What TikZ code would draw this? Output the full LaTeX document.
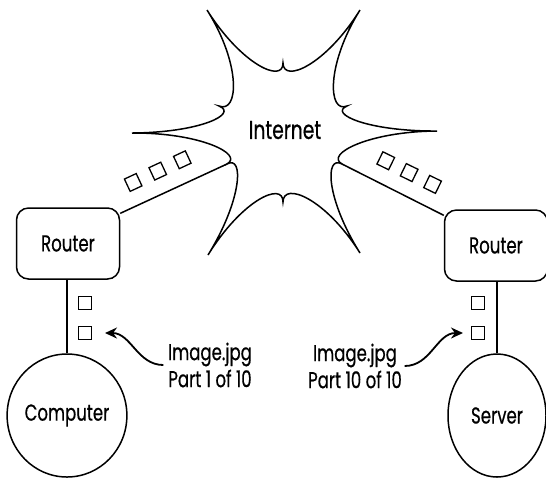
\documentclass[tikz,border=0pt]{standalone}
\usepackage{fontspec}
\setmainfont{Poppins}[FakeStretch=0.72,FakeBold=0.5]
\usetikzlibrary{arrows.meta,calc,shapes.geometric}

\begin{document}
\begin{tikzpicture}[x=0.5pt,y=-0.5pt,line width=0.75pt,
  font=\fontsize{11.5}{14}\selectfont,
  router/.style={draw, rounded corners=6pt, minimum width=51.5pt, minimum height=35.5pt, inner sep=0pt},
  host/.style={draw, ellipse, minimum width=49pt, minimum height=61.5pt, inner sep=0pt},
  pkt/.style={draw, minimum width=6.5pt, minimum height=6.8pt, inner sep=0pt, line width=0.65pt},
  note/.style={align=center, font=\fontsize{11.5}{13.5}\selectfont, inner sep=0pt},
  wiggle/.style={-{Stealth[length=6pt,width=5.5pt]}, line width=0.9pt}]
\useasboundingbox (0,0) rectangle (546,479);

% The cloud: six spikes (t) and six notches (c) between them
\coordinate (O) at (284,132);
\coordinate (t1) at (207,10);  \coordinate (c1) at (283,63);
\coordinate (t2) at (360,10);  \coordinate (c2) at (347,106);
\coordinate (t3) at (437,131); \coordinate (c3) at (342,164);
\coordinate (t4) at (360,253); \coordinate (c4) at (283,202);
\coordinate (t5) at (208,255); \coordinate (c5) at (227,164);
\coordinate (t6) at (132,133); \coordinate (c6) at (219,106);

\draw (t1)
  \foreach \i/\j in {1/2,2/3,3/4,4/5,5/6,6/1} {
    .. controls ($(t\i)!0.45!(O)$) and ($(c\i)!0.3!(O)$) .. (c\i)
    .. controls ($(c\i)!0.3!(O)$) and ($(t\j)!0.45!(O)$) .. (t\j)
  };
\node[font=\fontsize{13}{15}\selectfont] (inet) at (285,130) {Internet};

% Routers and end hosts
\node[router] (rl) at (68,243.5) {Router};
\node[router] (rr) at (496,245.5) {Router};
\node[host] (pc) at (67,415.5) {Computer};
\node[host] (srv) at (497,415.5) {Server};

% Links
\draw (rl.30) -- (c5);
\draw (rr.150) -- (c3);
\draw (pc.north) -- (pc.north |- rl.south);
\draw (srv.north) -- (srv.north |- rr.south);

% Packets on the links
\foreach \p in {0.21,0.44,0.67} {
  \node[pkt, rotate=25] at ($(rl.30)!\p!(c5)!11.3pt!90:(c5)$) {};
  \node[pkt, rotate=-26] at ($(rr.150)!\p!(c3)!11.3pt!-90:(c3)$) {};
}
\node[pkt] (p1) at (85,303) {}; \node[pkt] (p2) at (85,333) {};
\node[pkt] (p3) at (478,303) {}; \node[pkt] (p4) at (478,333) {};

% Notes
\node[note] (lbl1) at (210,365) {Image.jpg\\Part 1 of 10};
\node[note] (lbl2) at (355,366) {Image.jpg\\Part 10 of 10};
\coordinate (a1) at (105,333);
\coordinate (a2) at (463,333);
\draw[wiggle] ([xshift=-2pt]lbl1.west) to[out=180,in=0] (a1);
\draw[wiggle] ([xshift=1pt]lbl2.east) to[out=0,in=180] (a2);
\end{tikzpicture}
\end{document}
